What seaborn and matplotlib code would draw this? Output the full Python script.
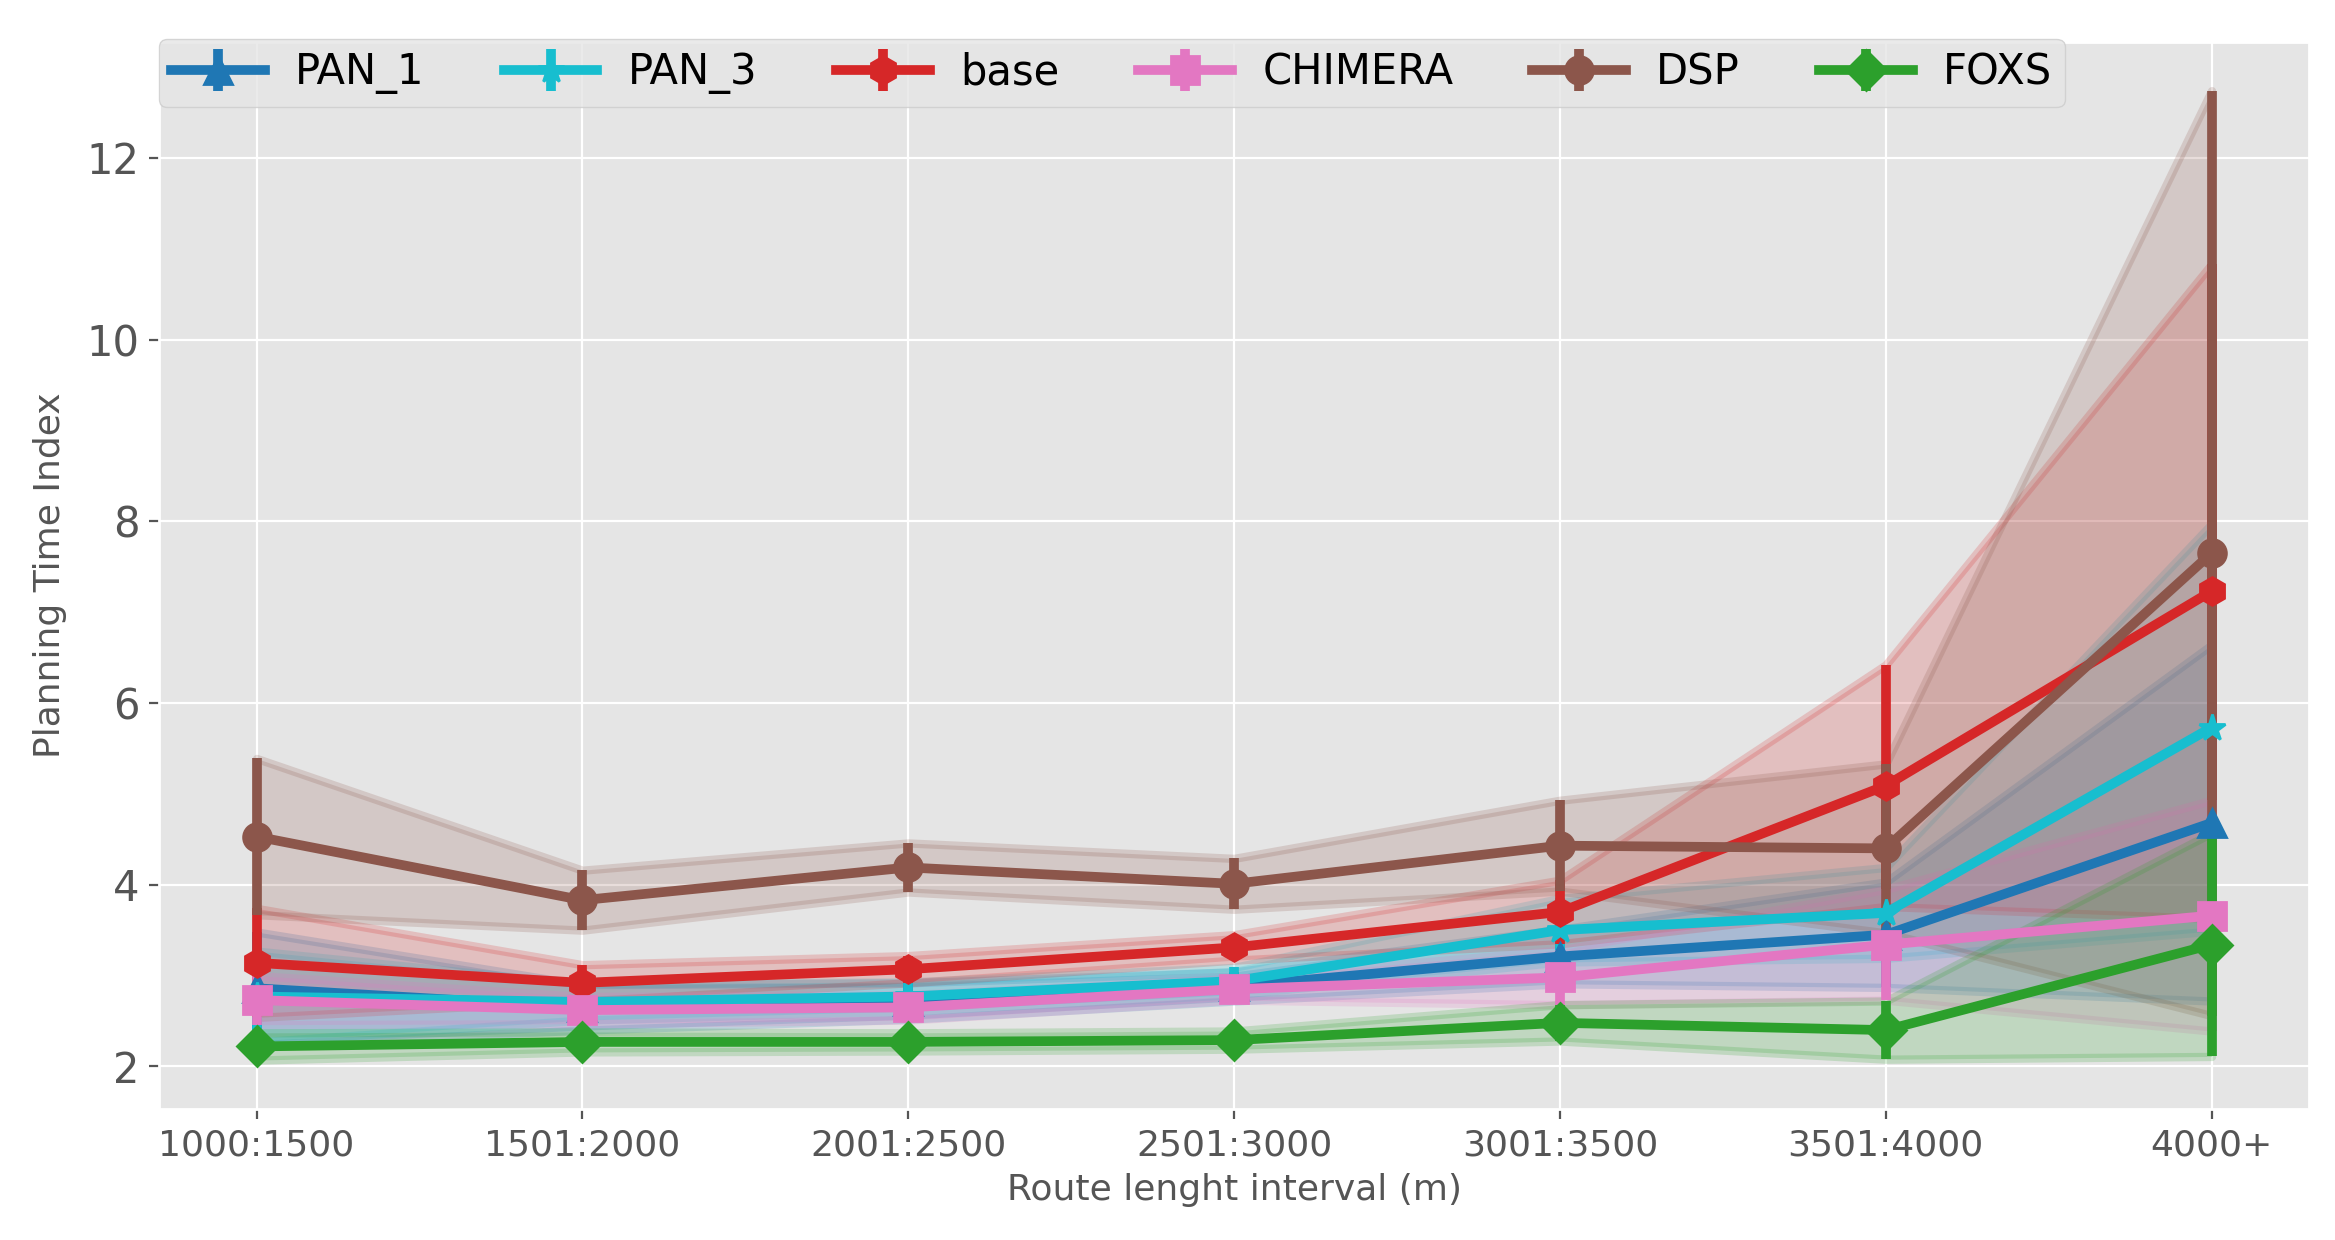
import matplotlib
matplotlib.use('Agg')
import matplotlib.pyplot as plt
import seaborn as sns
import numpy as np

# route length intervals (x categories)
intervals = ['1000:1500', '1501:2000', '2001:2500', '2501:3000',
             '3001:3500', '3501:4000', '4000+']

# mean planning time index per method
pan1_mean = [2.86, 2.65, 2.72, 2.88, 3.21, 3.45, 4.68]
pan3_mean = [2.77, 2.71, 2.77, 2.94, 3.50, 3.69, 5.73]
base_mean = [3.14, 2.92, 3.07, 3.31, 3.70, 5.09, 7.23]
chimera_mean = [2.73, 2.62, 2.65, 2.85, 2.98, 3.34, 3.66]
dsp_mean = [4.53, 3.83, 4.19, 4.01, 4.43, 4.40, 7.65]
foxs_mean = [2.22, 2.27, 2.27, 2.29, 2.48, 2.40, 3.34]

# standard deviations (error bars and shaded bands)
pan1_std = [0.62, 0.25, 0.20, 0.16, 0.30, 0.58, 1.96]
pan3_std = [0.50, 0.20, 0.16, 0.15, 0.35, 0.50, 2.24]
base_std = [0.60, 0.20, 0.15, 0.14, 0.35, 1.33, 3.60]
chimera_std = [0.27, 0.15, 0.14, 0.12, 0.30, 0.61, 1.27]
dsp_std = [0.86, 0.33, 0.27, 0.28, 0.50, 0.93, 5.09]
foxs_std = [0.15, 0.11, 0.10, 0.10, 0.20, 0.32, 1.23]

methods = ['PAN_1', 'PAN_3', 'base', 'CHIMERA', 'DSP', 'FOXS']
means = [pan1_mean, pan3_mean, base_mean, chimera_mean, dsp_mean, foxs_mean]
stds = [pan1_std, pan3_std, base_std, chimera_std, dsp_std, foxs_std]
markers = ['^', '*', 'h', 's', 'o', 'D']

if __name__ == "__main__":
    plt.style.use('ggplot')
    pal = sns.color_palette('tab10')
    colors = [pal[0], pal[9], pal[3], pal[6], pal[5], pal[2]]

    fig = plt.figure(figsize=(11.675, 6.2), dpi=200)
    ax = fig.add_axes([0.068, 0.106, 0.921, 0.860])

    x = np.arange(len(intervals))
    for name, m, s, mk, c in zip(methods, means, stds, markers, colors):
        m = np.array(m)
        s = np.array(s)
        ax.fill_between(x, m - s, m + s, color=c, alpha=0.2, lw=3)
        ax.errorbar(x, m, yerr=s, label=name, color=c, marker=mk,
                    markersize=10, lw=3.5, elinewidth=3.5, capsize=0)

    ax.set_xticks(x)
    ax.set_xticklabels(intervals, fontsize=13)
    ax.tick_params(axis='y', labelsize=15)
    ax.set_xlabel('Route lenght interval (m)', fontsize=13)
    ax.set_ylabel('Planning Time Index', fontsize=13, labelpad=7)

    ax.legend(ncol=6, loc='upper left', bbox_to_anchor=(0, 1.003),
              borderaxespad=0, fontsize=15, handlelength=2.25,
              handletextpad=0.72, columnspacing=1.9, borderpad=0.3)

    plt.savefig('out.png', dpi=200)
